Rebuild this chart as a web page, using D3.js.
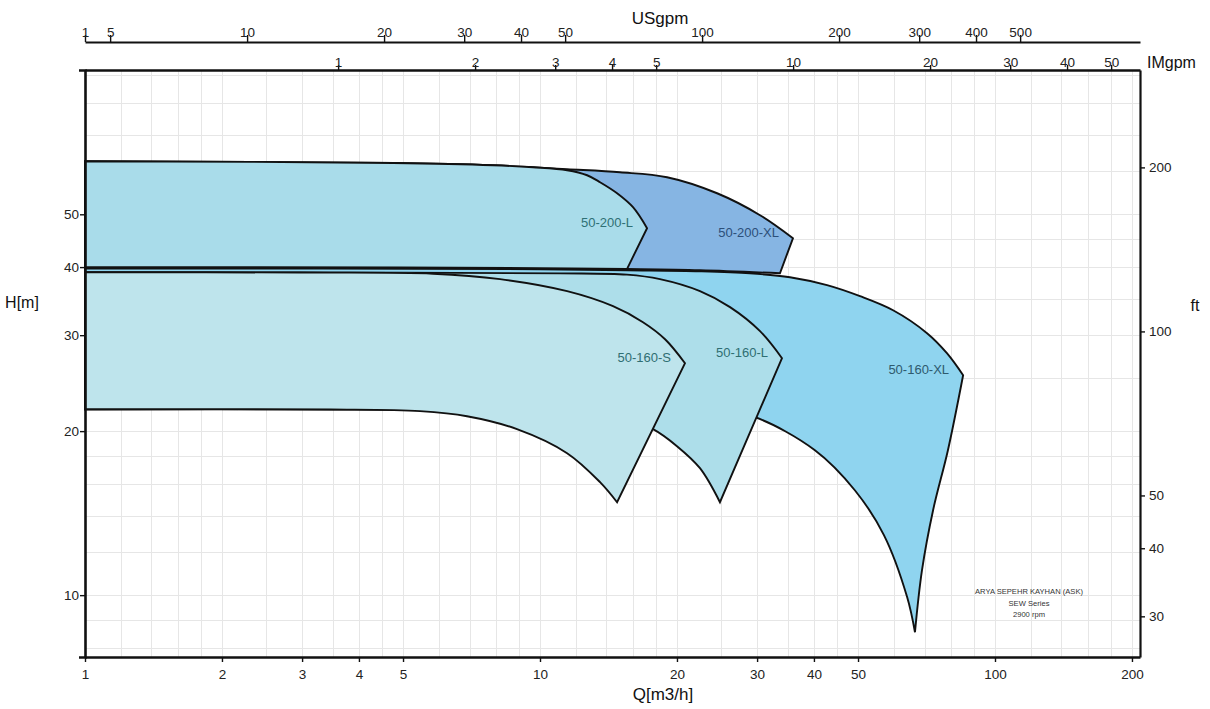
<!DOCTYPE html>
<html>
<head>
<meta charset="utf-8">
<script src="https://cdn.jsdelivr.net/npm/d3@7/dist/d3.min.js"></script>
<style>
  body { margin: 0; background: #fff; }
  svg { display: block; }
  text { font-family: "Liberation Sans", Arial, Helvetica, sans-serif; }
</style>
</head>
<body>
<svg id="chart" width="1210" height="709"></svg>
<script>
// ---- axis ticks ----
const qTicks  = [1, 2, 3, 4, 5, 10, 20, 30, 40, 50, 100, 200];   // Q [m3/h]
const hTicks  = [10, 20, 30, 40, 50];                              // H [m]
const ftTicks = [30, 40, 50, 100, 200];                            // H [ft]
const usTicks = [1, 5, 10, 20, 30, 40, 50, 100, 200, 300, 400, 500];
const imTicks = [1, 2, 3, 4, 5, 10, 20, 30, 40, 50];

// ---- grid ----
const qGrid = [1.2, 1.4, 1.6, 1.8, 2, 2.5, 3, 3.5, 4, 4.5, 5, 6, 7, 8, 9,
               10, 12, 14, 16, 18, 20, 25, 30, 35, 40, 45, 50, 60, 70, 80, 90,
               100, 120, 140, 160, 180, 200];
const hGrid = [8, 9, 10, 12, 14, 16, 18, 20, 25, 30, 35, 40, 45, 50, 60, 70, 80, 90];

// ---- pump ranges: [Q m3/h, H m] ----
const names = ["50-160-XL", "50-160-L", "50-160-S", "50-200-XL", "50-200-L"];

const top160XL = [[1, 39.81], [10, 39.64], [15.53, 39.47], [22.47, 39.3], [28.94, 38.97],
                  [35.43, 38.32], [42.74, 37.06], [50.5, 35.37], [59.7, 33.33], [70.9, 30.25],
                  [78.4, 27.8], [85.1, 25.33]];
const end160XL = [[78.8, 18.45], [73.1, 14.32], [69.1, 11.1]];
const bot160XL = [[1, 21.94], [8.17, 21.94], [20.31, 21.89], [24.86, 21.76], [29.69, 21.21],
                  [40.2, 18.45], [49.2, 15.58], [57.0, 12.89], [64.1, 9.92], [66.7, 8.55]];

const top160L = [[1, 39.15], [4.92, 39.07], [11.07, 38.96], [15.53, 38.74], [18.35, 38.01],
                 [22.47, 36.13], [26.16, 33.77], [30.45, 30.51], [34.03, 27.22]];
const end160L = [];
const bot160L = [[1, 21.94], [6.34, 21.89], [12.24, 21.76], [14.99, 21.3], [17.72, 20.17],
                 [20.0, 18.77], [22.47, 17.1], [24.86, 14.81]];

const top160S = [[1, 39.15], [2.97, 39.09], [5.82, 38.9], [8.17, 38.01], [11.47, 36.13],
                 [14.47, 33.91], [16.84, 31.69], [18.83, 29.49], [20.83, 26.65]];
const end160S = [];
const bot160S = [[1, 21.94], [3.46, 21.92], [5.45, 21.76], [6.91, 21.3], [8.9, 20.17],
                 [11.47, 18.22], [13.55, 16.12], [14.77, 14.81]];

const top200XL = [[1, 62.56], [4.75, 62.12], [7.88, 61.52], [9.65, 60.99], [11.47, 60.49],
                  [14.99, 59.72], [19.02, 58.48], [24.5, 54.65], [30.45, 49.81], [35.97, 45.19]];
const end200XL = [];
const bot200XL = [[1, 39.98], [4.92, 39.93], [10, 39.81], [15.53, 39.67], [22.47, 39.47], [33.68, 38.97]];

const top200L = [[1, 62.56], [4.75, 62.12], [7.88, 61.52], [9.65, 60.99], [11.47, 60.23],
                 [12.69, 58.97], [13.55, 57.26], [14.77, 54.65], [16.01, 51.52], [17.19, 47.15]];
const end200L = [];
const bot200L = [[1, 39.98], [4.92, 39.93], [10, 39.81], [15.53, 39.67]];

const fills  = ["#8fd4ef", "#addeea", "#bee4ec", "#86b5e3", "#a9dcea"];
const inkCol = ["#2e5a6e", "#2f6e72", "#2f6e72", "#2c4f79", "#2f7075"];

const ranges = [
  { name: names[0], top: top160XL, end: end160XL, bottom: bot160XL },
  { name: names[1], top: top160L,  end: end160L,  bottom: bot160L },
  { name: names[2], top: top160S,  end: end160S,  bottom: bot160S },
  { name: names[3], top: top200XL, end: end200XL, bottom: bot200XL },
  { name: names[4], top: top200L,  end: end200L,  bottom: bot200L }
];

const footer = ["ARYA SEPEHR KAYHAN (ASK)", "SEW Series", "2900 rpm"];

// ---- scales ----
const M3H_PER_USGPM = 0.2271247;
const M3H_PER_UNIT_TOP = 3.6;
const M_TO_FT = 3.28084;
const qMin = 1, qMax = 208.3, hMin = 7.7, hMax = 92;
const L = 85, R = 1140, T = 70, B = 657;

const x   = d3.scaleLog().domain([qMin, qMax]).range([L, R]);
const y   = d3.scaleLog().domain([hMin, hMax]).range([B, T]);
const yFt = d3.scaleLog().domain([hMin * M_TO_FT, hMax * M_TO_FT]).range([B, T]);
const xUS = d3.scaleLog().domain([qMin / M3H_PER_USGPM, qMax / M3H_PER_USGPM]).range([L, R]).clamp(true);
const xIM = d3.scaleLog().domain([qMin / M3H_PER_UNIT_TOP, qMax / M3H_PER_UNIT_TOP]).range([L, R]);

const svg = d3.select("#chart");

// grid
const grid = svg.append("g").attr("stroke", "#e6e6e6").attr("stroke-width", 1);
grid.selectAll("line.v").data(qGrid.filter(q => q > qMin && q < qMax)).join("line")
  .attr("x1", d => Math.round(x(d)) + 0.5).attr("x2", d => Math.round(x(d)) + 0.5)
  .attr("y1", T).attr("y2", B);
grid.selectAll("line.h").data(hGrid.filter(h => h > hMin && h < hMax)).join("line")
  .attr("y1", d => Math.round(y(d)) + 0.5).attr("y2", d => Math.round(y(d)) + 0.5)
  .attr("x1", L).attr("x2", R);

// pump range outlines: head curve, end-of-range edge, min-impeller curve
const curve = d3.line().x(d => x(d[0])).y(d => y(d[1])).curve(d3.curveCatmullRom.alpha(0.5));

function outline(r) {
  const t = curve(r.top);
  const e = curve([r.top[r.top.length - 1], ...r.end, r.bottom[r.bottom.length - 1]]).replace(/^M/, "L");
  const b = curve(r.bottom.slice().reverse()).replace(/^M/, "L");
  return t + e + b + "Z";
}

const areas = svg.append("g");
areas.selectAll("path").data(ranges).join("path")
  .attr("d", outline)
  .attr("fill", (d, i) => fills[i])
  .attr("stroke", "#111")
  .attr("stroke-width", 1.9)
  .attr("stroke-linejoin", "miter");

// range names, right-aligned against the top end of each range
svg.append("g").selectAll("text").data(ranges).join("text")
  .attr("x", d => x(d.top[d.top.length - 1][0]) - 14)
  .attr("y", d => y(d.top[d.top.length - 1][1]) - 1.5)
  .attr("text-anchor", "end")
  .attr("font-size", 13)
  .attr("fill", (d, i) => inkCol[i])
  .text(d => d.name);

// axes
function styleAxis(g, lineW, fontSize) {
  g.select(".domain").attr("stroke", "#111").attr("stroke-width", lineW);
  g.selectAll(".tick line").attr("stroke", "#111").attr("stroke-width", 1.4);
  g.selectAll(".tick text").attr("fill", "#222").attr("font-size", fontSize)
    .attr("font-family", "'Liberation Sans', Arial, sans-serif");
}

const fmt = d3.format("d");

svg.append("g").attr("transform", `translate(0,${B})`)
  .call(d3.axisBottom(x).tickValues(qTicks).tickFormat(fmt).tickSize(5).tickSizeOuter(0).tickPadding(7))
  .call(g => styleAxis(g, 2.6, 13.5));

svg.append("g").attr("transform", `translate(${L},0)`)
  .call(d3.axisLeft(y).tickValues(hTicks).tickFormat(fmt).tickSize(5).tickSizeOuter(6).tickPadding(1))
  .call(g => styleAxis(g, 2.6, 13.5));

svg.append("g").attr("transform", `translate(${R},0)`)
  .call(d3.axisRight(yFt).tickValues(ftTicks).tickFormat(fmt).tickSize(5).tickSizeOuter(0).tickPadding(4))
  .call(g => styleAxis(g, 2.2, 13.5));

svg.append("g").attr("transform", `translate(0,${T})`)
  .call(d3.axisTop(xIM).tickValues(imTicks).tickFormat(fmt).tickSize(5).tickSizeOuter(0).tickPadding(-2))
  .call(g => styleAxis(g, 2.6, 13.5));

svg.append("g").attr("transform", "translate(0,42)")
  .call(d3.axisTop(xUS).tickValues(usTicks).tickFormat(fmt).tickSize(7).tickSizeOuter(0).tickPadding(-2))
  .call(g => styleAxis(g, 2.2, 13.5));

// axis titles
const titles = svg.append("g").attr("fill", "#111");
titles.append("text").attr("x", 660).attr("y", 24).attr("text-anchor", "middle").attr("font-size", 17).text("USgpm");
titles.append("text").attr("x", 1147).attr("y", 68).attr("font-size", 16).text("IMgpm");
titles.append("text").attr("x", 22).attr("y", 308).attr("text-anchor", "middle").attr("font-size", 16).text("H[m]");
titles.append("text").attr("x", 1195).attr("y", 311).attr("text-anchor", "middle").attr("font-size", 16).text("ft");
titles.append("text").attr("x", 663).attr("y", 700).attr("text-anchor", "middle").attr("font-size", 17).text("Q[m3/h]");

// series caption
svg.append("g").selectAll("text").data(footer).join("text")
  .attr("x", 1029)
  .attr("y", (d, i) => 594 + i * 11.5)
  .attr("text-anchor", "middle")
  .attr("font-family", "'Open Sans', sans-serif")
  .attr("font-size", 7.6)
  .attr("fill", "#333")
  .text(d => d);
</script>
</body>
</html>
